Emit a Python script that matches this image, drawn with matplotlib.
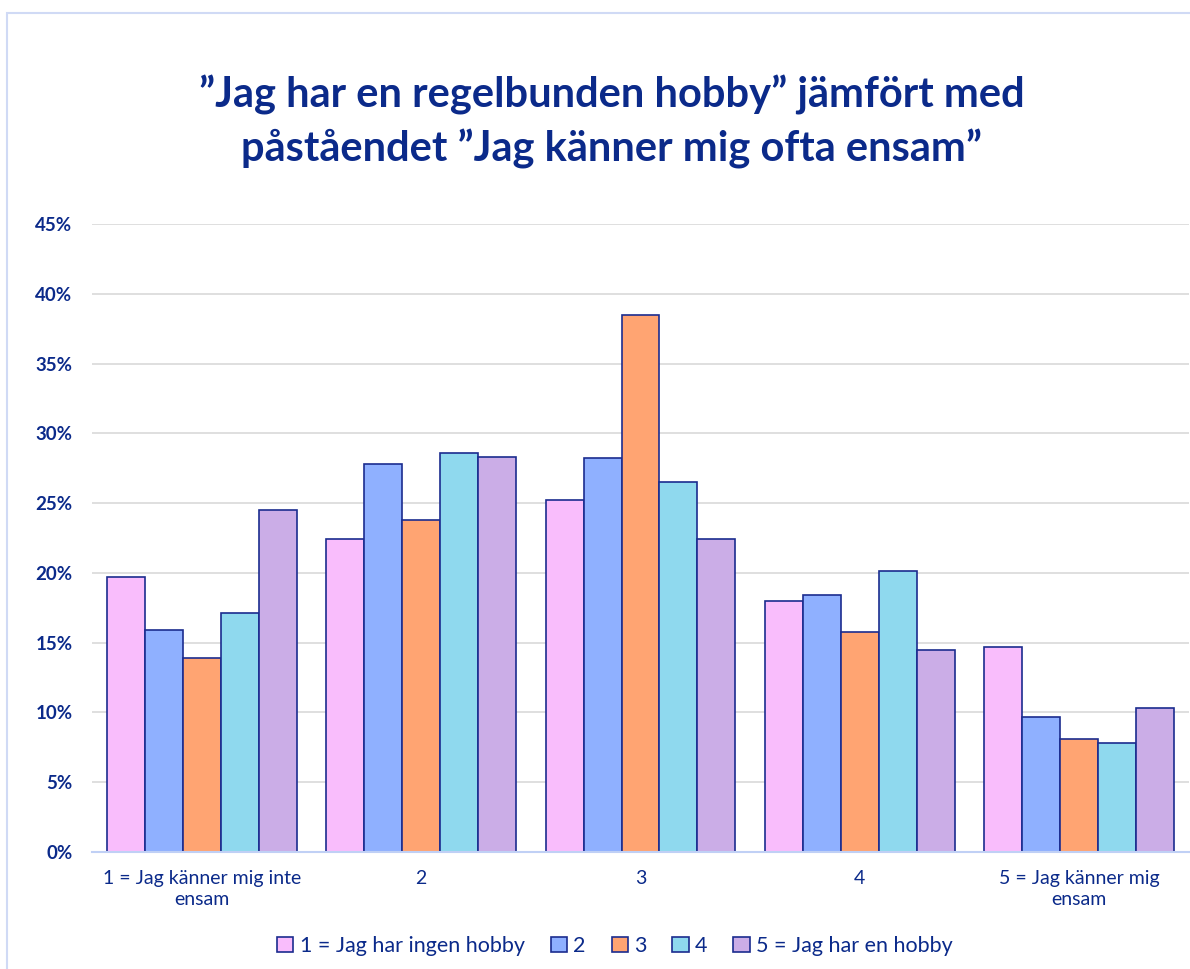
import matplotlib
matplotlib.use("Agg")
import matplotlib.pyplot as plt
import numpy as np
from matplotlib.patches import Rectangle

categories = ["1 = Jag känner mig inte\nensam", "2", "3", "4", "5 = Jag känner mig\nensam"]
series_names = ["1 = Jag har ingen hobby", "2", "3", "4", "5 = Jag har en hobby"]
values = [
    [19.7, 22.4, 25.2, 18.0, 14.7],
    [15.9, 27.8, 28.2, 18.4, 9.7],
    [13.9, 23.8, 38.5, 15.8, 8.1],
    [17.1, 28.6, 26.5, 20.1, 7.8],
    [24.5, 28.3, 22.4, 14.5, 10.3],
]
colors = ["#F9BDFC", "#8FB0FF", "#FFA472", "#8FD9EE", "#CBADE7"]
yticks = [0, 5, 10, 15, 20, 25, 30, 35, 40, 45]
title = "\u201dJag har en regelbunden hobby\u201d jämfört med\npåståendet \u201dJag känner mig ofta ensam\u201d"

navy = "#0B2A8A"
edge = "#1B2C8F"
plt.rcParams['font.family'] = ['Lato', 'DejaVu Sans']

fig = plt.figure(figsize=(11.9, 9.69), dpi=100)
# outer frame
fig.patches.append(Rectangle((7/1190, -0.1), 1.2, 1.1 - 13/969, transform=fig.transFigure,
                             fill=False, edgecolor="#D0DAF5", linewidth=1.5))
ax = fig.add_axes([92/1190, 1 - 852/969, 1097/1190, (852 - 224)/969])

x = np.arange(len(categories))
bw = 0.173
for i, (name, vals, c) in enumerate(zip(series_names, values, colors)):
    ax.bar(x + (i - 2) * bw, vals, bw, color=c, edgecolor=edge, linewidth=1.2, label=name, zorder=3)

ax.set_xlim(-0.5, 4.5)
ax.set_ylim(0, 45)
ax.set_yticks(yticks)
ax.set_yticklabels([f"{v}%" for v in yticks], fontsize=13.5, fontweight="bold", color=navy)
ax.set_xticks(x)
ax.set_xticklabels(categories, fontsize=14, color=navy, linespacing=1.3)
ax.tick_params(axis="both", length=0)
ax.tick_params(axis="y", pad=14)
ax.tick_params(axis="x", pad=13)
ax.yaxis.grid(True, color="#D9D9D9", linewidth=1.2, zorder=0)
for s in ["top", "right", "left"]:
    ax.spines[s].set_visible(False)
ax.spines["bottom"].set_color("#C0D0F5")
ax.spines["bottom"].set_linewidth(1.5)
ax.spines["bottom"].set_zorder(4)

fig.text(612/1190, 1 - 122/969, title, ha="center", va="center", fontsize=30, fontweight="bold",
         color=navy, linespacing=1.4)

leg = fig.legend(loc="center", bbox_to_anchor=(615/1190, 1 - 946/969), ncol=5, frameon=False,
                 fontsize=15.5, handlelength=0.75, handleheight=0.75, handletextpad=0.3, columnspacing=1.2)
for t in leg.get_texts():
    t.set_color(navy)

fig.savefig("out.png", dpi=100)
